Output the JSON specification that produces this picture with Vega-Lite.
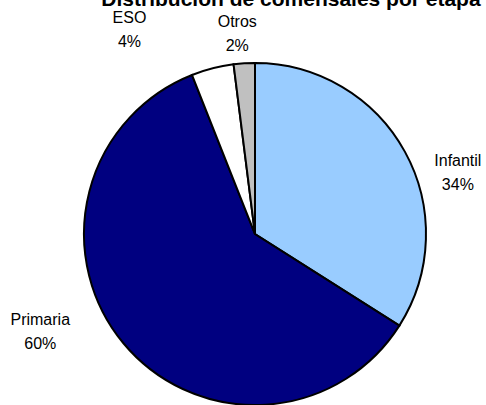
{
  "$schema": "https://vega.github.io/schema/vega-lite/v6.json",
  "autosize": {"type": "none"},
  "width": 342,
  "height": 342,
  "padding": {"left": 84, "top": 63, "right": 60, "bottom": 0},
  "background": "white",
  "title": {
    "text": "Distribución de comensales por etapa",
    "font": "Liberation Sans",
    "fontSize": 21,
    "fontWeight": "bold",
    "color": "black",
    "anchor": "middle",
    "frame": "group",
    "dx": 36,
    "dy": 9
  },
  "data": {
    "values": [
      {"etapa": "Infantil", "pct": 34, "orden": 1},
      {"etapa": "Primaria", "pct": 60, "orden": 2},
      {"etapa": "ESO", "pct": 4, "orden": 3},
      {"etapa": "Otros", "pct": 2, "orden": 4}
    ]
  },
  "transform": [{"calculate": "[datum.etapa, datum.pct + '%']", "as": "label"}],
  "encoding": {
    "theta": {"field": "pct", "type": "quantitative", "stack": true},
    "order": {"field": "orden", "type": "quantitative"}
  },
  "layer": [
    {
      "mark": {"type": "arc", "outerRadius": 171, "stroke": "black", "strokeWidth": 2},
      "encoding": {
        "color": {
          "field": "etapa",
          "type": "nominal",
          "scale": {"domain": ["Infantil", "Primaria", "ESO", "Otros"], "range": ["#99CCFF", "#000080", "#FFFFFF", "#C0C0C0"]},
          "legend": null
        }
      }
    },
    {
      "mark": {"type": "text", "radius": 171, "dx": 53, "dy": 9, "font": "Liberation Sans", "fontSize": 16, "lineHeight": 24, "align": "center", "baseline": "middle", "fill": "black"},
      "encoding": {
        "detail": {"field": "etapa"},
        "text": {"condition": {"test": "datum.etapa === 'Infantil'", "field": "label"}, "value": ""}
      }
    },
    {
      "mark": {"type": "text", "radius": 171, "dx": -83, "dy": -23, "font": "Liberation Sans", "fontSize": 16, "lineHeight": 24, "align": "center", "baseline": "middle", "fill": "black"},
      "encoding": {
        "detail": {"field": "etapa"},
        "text": {"condition": {"test": "datum.etapa === 'Primaria'", "field": "label"}, "value": ""}
      }
    },
    {
      "mark": {"type": "text", "radius": 171, "dx": -83, "dy": -50, "font": "Liberation Sans", "fontSize": 16, "lineHeight": 24, "align": "center", "baseline": "middle", "fill": "black"},
      "encoding": {
        "detail": {"field": "etapa"},
        "text": {"condition": {"test": "datum.etapa === 'ESO'", "field": "label"}, "value": ""}
      }
    },
    {
      "mark": {"type": "text", "radius": 171, "dx": -7, "dy": -41, "font": "Liberation Sans", "fontSize": 16, "lineHeight": 24, "align": "center", "baseline": "middle", "fill": "black"},
      "encoding": {
        "detail": {"field": "etapa"},
        "text": {"condition": {"test": "datum.etapa === 'Otros'", "field": "label"}, "value": ""}
      }
    }
  ],
  "config": {"view": {"stroke": null}}
}
